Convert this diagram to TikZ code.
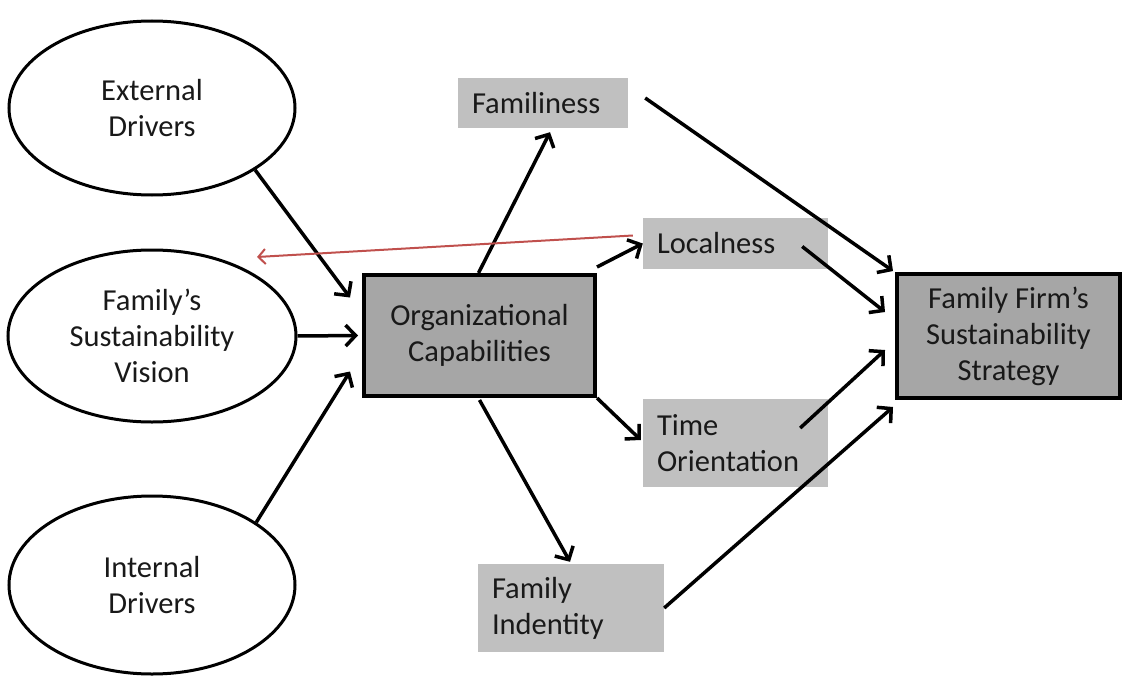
\documentclass[tikz,border=0pt]{standalone}
\usepackage{fontspec}
\setmainfont{Carlito}
\usepackage{xcolor}
\usetikzlibrary{shapes.geometric,arrows.meta,calc}
\definecolor{boxgray}{HTML}{A6A6A6}
\definecolor{factorgray}{HTML}{C0C0C0}
\definecolor{linkred}{HTML}{C0504D}

\begin{document}
\begin{tikzpicture}[x=1pt,y=-1pt,
        every node/.style={font=\fontsize{30.5}{36}\selectfont,text=black!90},
        driver/.style={ellipse,draw,line width=3pt,inner sep=0pt,align=center},
        mainbox/.style={draw,line width=4pt,fill=boxgray,align=center},
        factor/.style={fill=factorgray,inner xsep=14pt,align=left},
        link/.style={line width=3.5pt,-{Straight Barb[length=10pt,width=21pt]}},
        redlink/.style={line width=2pt,linkred,-{Straight Barb[length=7pt,width=15pt]}}]
        \useasboundingbox (0,0) rectangle (1129,682);
        % drivers on the left
        \node[driver,minimum width=286pt,minimum height=174pt] (ext) at (152,108) {External\\Drivers};
        \node[driver,minimum width=288pt,minimum height=172pt] (vis) at (152,336) {Family’s\\Sustainability\\Vision};
        \node[driver,minimum width=286pt,minimum height=178pt] (int) at (152,585) {Internal\\Drivers};
        % main boxes
        \node[mainbox,minimum width=231pt,minimum height=121pt] (org) at (479.5,335.5) {Organizational\\Capabilities};
        \node[mainbox,minimum width=223pt,minimum height=124pt] (ffss) at (1008.5,336) {Family Firm’s\\Sustainability\\Strategy};
        % factors
        \node[factor,text width=142pt,minimum height=50pt] (fam) at (543,103) {Familiness};
        \node[factor,text width=157pt,minimum height=51pt] (loc) at (735.5,243.5) {Localness};
        \node[factor,text width=157pt,minimum height=88pt] (time) at (735.5,443) {Time\\Orientation};
        \node[factor,text width=158pt,minimum height=88pt] (ident) at (571,608) {Family\\Indentity};
        % into the capabilities
        \draw[link] (ext.-31) -- ($(org.west)+(-12,-38)$);
        \draw[link] (vis.east) -- ($(org.west)+(-4,0)$);
        \draw[link] (int.31) -- ($(org.west)+(-12,36)$);
        % out of the capabilities
        \draw[link] ($(org.north)+(-1,0)$) -- ($(fam.south)+(7,4)$);
        \draw[link] ($(org.north east)+(0,-6)$) -- (loc.west);
        \draw[link] (org.south east) -- ($(time.west)+(-2,-3)$);
        \draw[link] ($(org.south)+(0,2)$) -- ($(ident.north)+(-1,-2)$);
        % into the strategy
        \draw[link] ($(fam.east)+(17,-5)$) -- ($(ffss.north west)+(-2,-1)$);
        \draw[link] ($(loc.east)+(-26,3)$) -- ($(ffss.west)+(-10,-24)$);
        \draw[link] ($(time.east)+(-28,-15)$) -- ($(ffss.west)+(-10,14)$);
        \draw[link] (ident.east) -- ($(ffss.south west)+(-2,7)$);
        % feedback
        \draw[redlink] ($(loc.west)+(-10,-8)$) -- ($(vis.center)+(105,-79)$);
\end{tikzpicture}
\end{document}
